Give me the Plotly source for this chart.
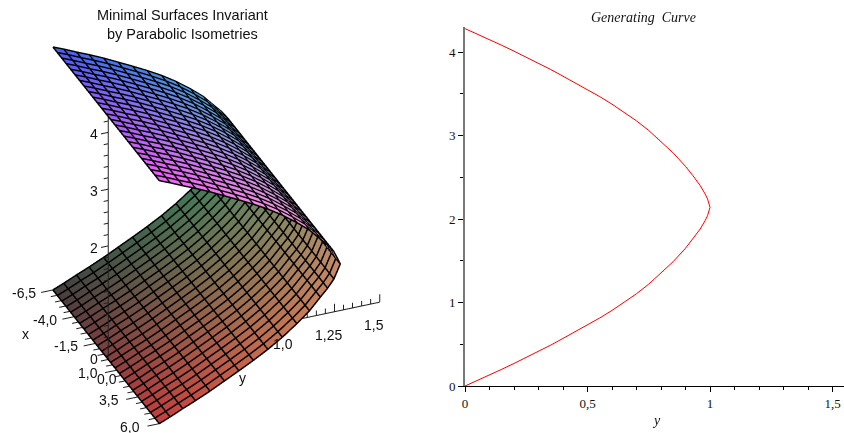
import plotly.graph_objects as go

# --- generating curve (right panel)
curve_y = [0, .05, .1, .15, .2, .25, .3, .35, .4, .45, .5, .55, .6, .65, .7, .75, .8, .85, .9, .93, .96, .98, .99, 1.0,
           .99, .98, .96, .93, .9, .85, .8, .75, .7, .65, .6, .55, .5, .45, .4, .35, .3, .25, .2, .15, .1, .05, 0]
curve_z = [0, .065, .13, .2, .27, .34, .415, .49, .57, .65, .73, .815, .905, 1.0, 1.105, 1.22, 1.35, 1.49, 1.65, 1.76, 1.88, 1.98, 2.04, 2.14,
           2.24, 2.30, 2.40, 2.52, 2.63, 2.79, 2.93, 3.06, 3.175, 3.28, 3.375, 3.465, 3.55, 3.63, 3.71, 3.79, 3.865, 3.94, 4.01, 4.08, 4.15, 4.215, 4.28]

# --- surface grid (left panel)
grid_x = [-6.5, -5.979, -5.458, -4.938, -4.417, -3.896, -3.375, -2.854, -2.333, -1.813, -1.292, -.771, -.25,
          .271, .792, 1.313, 1.833, 2.354, 2.875, 3.396, 3.917, 4.438, 4.958, 5.479, 6.0]
low_y = [0, .06, .13, .2, .28, .36, .44, .52, .60, .68, .76, .83, .89, .93, .965, 1.0]
low_z = [0, .078, .177, .27, .385, .51, .635, .765, .905, 1.065, 1.25, 1.43, 1.63, 1.76, 1.9, 2.14]
up_y = [1.0, .965, .93, .89, .83, .76, .68, .60, .52, .44, .36, .28, .2, .13, .06, 0]
up_z = [2.14, 2.38, 2.52, 2.65, 2.85, 3.03, 3.215, 3.375, 3.515, 3.645, 3.77, 3.895, 4.01, 4.103, 4.202, 4.28]

x_major = [-6.5, -4.0, -1.5, 1.0, 3.5, 6.0]
x_labels = ["-6,5", "-4,0", "-1,5", "1,0", "3,5", "6,0"]
x_minor = [-6.0, -5.5, -5.0, -4.5, -3.5, -3.0, -2.5, -2.0, -1.0, -0.5, 0.0, 0.5, 1.5, 2.0, 2.5, 3.0, 4.0, 4.5, 5.0, 5.5]
y_major = [1.0, 1.25, 1.5]
y_labels = ["1,0", "1,25", "1,5"]
y_minor = [1.05, 1.1, 1.15, 1.2, 1.3, 1.35, 1.4, 1.45]
z_major = [0, 2, 3, 4]
z_labels = ["0", "2", "3", "4"]
z_minor = [.2, .4, .6, .8, 1.0, 1.2, 1.4, 1.6, 1.8, 2.2, 2.4, 2.6, 2.8, 3.2, 3.4, 3.6, 3.8, 4.2]

SANS = "Liberation Sans"
SERIF = "Liberation Serif"
# grid lines sit a hair nearer the viewer than the sheets so they are not lost in the depth test
NEAR = (.071, -.0033, .0156)


def lerp(a, b, t):
    return a + (b - a) * t


def sheet_mesh(ys, zs, rr, gg, bb, zr):
    px, py, pz, col, i, j, k = [], [], [], [], [], [], []
    nx, ny = len(grid_x), len(ys)
    for xv in grid_x:
        for b in range(ny):
            px.append(xv); py.append(ys[b]); pz.append(zs[b])
            r = lerp(rr[0], rr[1], (xv + 6.5) / 12.5)
            g = lerp(gg[0], gg[1], ys[b])
            c = lerp(bb[0], bb[1], (zs[b] - zr[0]) / (zr[1] - zr[0]))
            col.append(f"rgb({r:.0f},{g:.0f},{c:.0f})")
    for a in range(nx - 1):
        for b in range(ny - 1):
            p = a * ny + b
            i += [p, p]; j += [p + 1, p + ny + 1]; k += [p + ny + 1, p + ny]
    return go.Mesh3d(x=px, y=py, z=pz, i=i, j=j, k=k, vertexcolor=col, flatshading=False,
                     lighting=dict(ambient=1, diffuse=0, specular=0, roughness=1, fresnel=0),
                     hoverinfo="skip", showscale=False)


fig = go.Figure()
fig.add_trace(sheet_mesh(low_y, low_z, (66, 200), (62, 138), (62, 105), (0, 2.14)))
fig.add_trace(sheet_mesh(up_y, up_z, (70, 245), (92, 170), (195, 250), (2.14, 4.28)))

# grid lines
all_y = low_y + up_y[1:]
all_z = low_z + up_z[1:]
gx, gy, gz = [], [], []
for xv in grid_x:
    for yv, zv in zip(all_y, all_z):
        gx.append(xv + NEAR[0]); gy.append(yv + NEAR[1]); gz.append(zv + NEAR[2])
    gx.append(None); gy.append(None); gz.append(None)
for yv, zv in zip(all_y, all_z):
    for xv in grid_x:
        gx.append(xv + NEAR[0]); gy.append(yv + NEAR[1]); gz.append(zv + NEAR[2])
    gx.append(None); gy.append(None); gz.append(None)
fig.add_trace(go.Scatter3d(x=gx, y=gy, z=gz, mode="lines", line=dict(color="black", width=3),
                           hoverinfo="skip", showlegend=False))

# axes with ticks
ax, ay, az = [-6.5, 6.0, None, 0, 0, None, 0, 0, None], [0, 0, None, 0, 1.5, None, 0, 0, None], [0, 0, None, 0, 0, None, 0, 4.28, None]
for v in x_major:
    ax += [v, v, None]; ay += [0, -.065, None]; az += [0, 0, None]
for v in x_minor:
    ax += [v, v, None]; ay += [0, -.035, None]; az += [0, 0, None]
for v in y_major:
    ax += [0, 0, None]; ay += [v, v, None]; az += [0, .14, None]
for v in y_minor:
    ax += [0, 0, None]; ay += [v, v, None]; az += [0, .09, None]
for v in z_major:
    ax += [0, 0, None]; ay += [0, -.04, None]; az += [v, v, None]
for v in z_minor:
    ax += [0, 0, None]; ay += [0, -.025, None]; az += [v, v, None]
fig.add_trace(go.Scatter3d(x=ax, y=ay, z=az, mode="lines", line=dict(color="#222", width=2),
                           hoverinfo="skip", showlegend=False))

scene_ann = []


def a3(x, y, z, text, xs, ys):
    scene_ann.append(dict(x=x, y=y, z=z, text=text, showarrow=False, xshift=xs, yshift=ys,
                          font=dict(family=SANS, size=14, color="#111")))


for v, t in zip(x_major, x_labels):
    a3(v, 0, 0, t, -29, -3)
for v, t in zip(y_major, y_labels):
    a3(0, v, 0, t, -6, -23)
a3(0, 0, 0, "0,0", -1, -20)
for v, t in zip(z_major, z_labels):
    a3(0, 0, v, t, -14, -2 if v else 0)
a3(-4.0, 0, 0, "x", -49, -17)
a3(0, .75, 0, "y", -1, -47)

axis_off = dict(visible=True, title=dict(text=""), showgrid=False, zeroline=False, showline=False, ticks="",
                showticklabels=False, showbackground=False, showspikes=False)
R = 3.0
ZOOM = 1.393
X_RANGE = [-6.58, 6.08]
Y_RANGE = [-.07, 1.5]
Z_RANGE = [-.32, 4.3]
fig.update_layout(
    width=844, height=433, margin=dict(l=0, r=0, t=0, b=0, autoexpand=False), paper_bgcolor="white", plot_bgcolor="white",
    showlegend=False,
    scene=dict(
        domain=dict(x=[0, 471 / 844], y=[0, 1]),
        xaxis=dict(range=X_RANGE, **axis_off),
        yaxis=dict(range=Y_RANGE, **axis_off),
        zaxis=dict(range=Z_RANGE, **axis_off),
        aspectmode="manual",
        aspectratio=dict(x=ZOOM * 279 / 300 * (X_RANGE[1] - X_RANGE[0]) / 12.5,
                         y=ZOOM * 305.5 / 300,
                         z=ZOOM * 282 / 300 * (Z_RANGE[1] - Z_RANGE[0]) / 4.28),
        camera=dict(eye=dict(x=.793 * R, y=-.325 * R, z=.515 * R), center=dict(x=0, y=0, z=0), up=dict(x=0, y=0, z=1),
                    projection=dict(type="orthographic")),
        annotations=scene_ann,
    ),
    xaxis=dict(domain=[465 / 844, 1], range=[0, 379 / 245], showgrid=False, zeroline=False, anchor="y", automargin=False,
               tickmode="array", tickvals=[0, .5, 1, 1.5], ticktext=["0", "0,5", "1", "1,5"],
               ticks="outside", ticklen=5, tickcolor="black", showline=True, linecolor="black", linewidth=1,
               tickfont=dict(family=SERIF, size=13, color="#111"),
               minor=dict(tickmode="array", tickvals=[.1, .2, .3, .4, .6, .7, .8, .9, 1.1, 1.2, 1.3, 1.4], ticks="outside", ticklen=3, tickcolor="black")),
    yaxis=dict(domain=[47 / 433, 406 / 433], range=[0, 359 / 83.5], showgrid=False, zeroline=False, anchor="x", automargin=False,
               tickmode="array", tickvals=[0, 1, 2, 3, 4], ticktext=["0", "1", "2", "3", "4"],
               ticks="outside", ticklen=5, tickcolor="black", showline=True, linecolor="#777", linewidth=2,
               tickfont=dict(family=SERIF, size=13, color="#111"),
               minor=dict(tickmode="array", tickvals=[.5, 1.5, 2.5, 3.5], ticks="outside", ticklen=3, tickcolor="black")),
    annotations=[
        dict(x=182 / 844, y=1 - 15 / 433, xref="paper", yref="paper", xanchor="center", yanchor="middle", text="Minimal Surfaces Invariant", showarrow=False,
             font=dict(family=SANS, size=14.5, color="#111")),
        dict(x=182 / 844, y=1 - 34 / 433, xref="paper", yref="paper", xanchor="center", yanchor="middle", text="by Parabolic Isometries", showarrow=False,
             font=dict(family=SANS, size=14.5, color="#111")),
        dict(x=643 / 844, y=1 - 18 / 433, xref="paper", yref="paper", xanchor="center", yanchor="middle", text="<i>Generating  Curve</i>", showarrow=False,
             font=dict(family=SERIF, size=14, color="#111")),
        dict(x=656 / 844, y=1 - 420 / 433, xref="paper", yref="paper", xanchor="center", yanchor="middle", text="<i>y</i>", showarrow=False,
             font=dict(family=SERIF, size=14, color="#111")),
    ],
)
fig.add_trace(go.Scatter(x=curve_y, y=curve_z, mode="lines", line=dict(color="#ff0000", width=1), xaxis="x", yaxis="y",
                         hoverinfo="skip", cliponaxis=False))
fig.write_html("out.html", config=dict(displayModeBar=False),
               post_script="document.body.style.margin='0';document.body.style.overflow='hidden';")
